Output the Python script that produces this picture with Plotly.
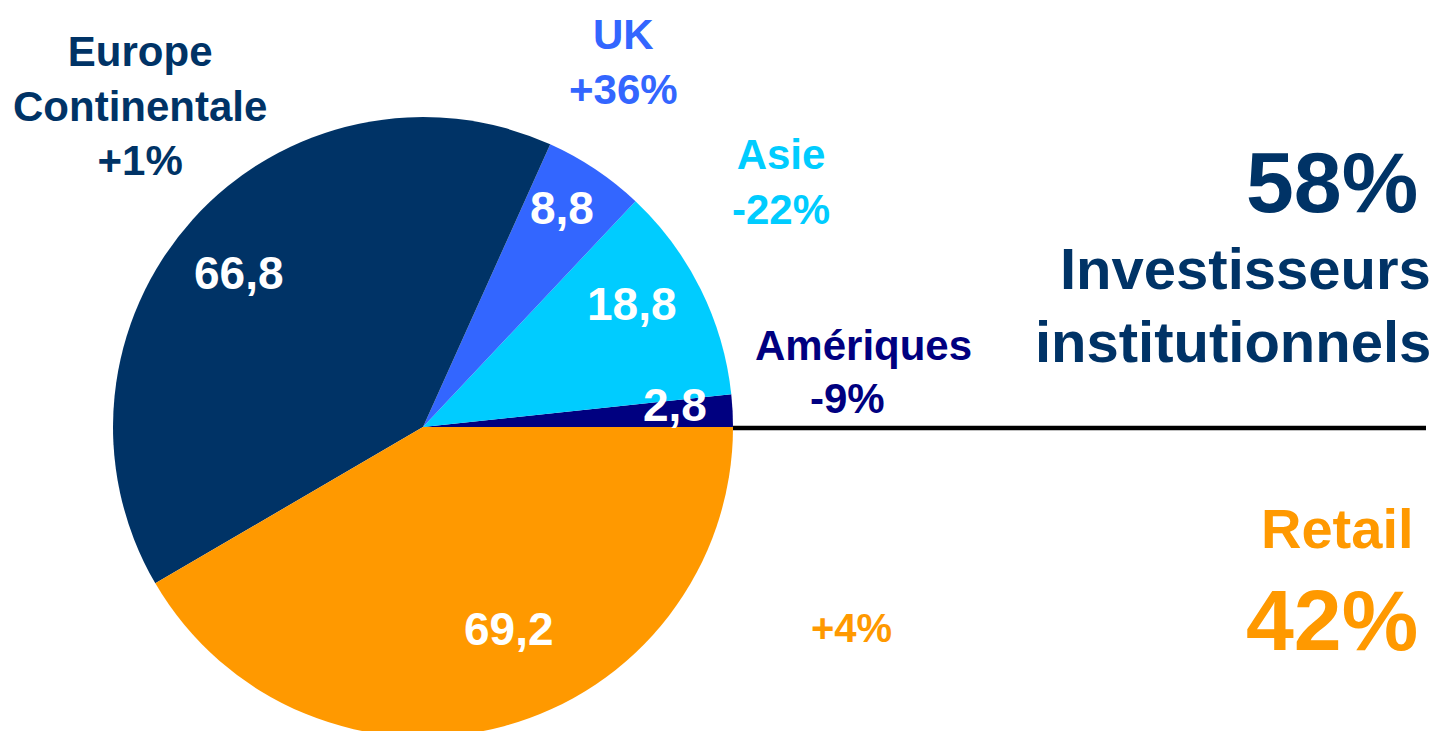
import plotly.graph_objects as go

# ---- data ----
regions = ["Amériques", "Asie", "UK", "Europe Continentale", "Retail"]
values = [2.8, 18.8, 8.8, 66.8, 69.2]
growth = ["-9%", "-22%", "+36%", "+1%", "+4%"]
colors = ["#000080", "#00CCFF", "#3366FF", "#003366", "#FF9900"]
group_labels = ["Investisseurs institutionnels", "Retail"]

W, H = 1436, 741   # slightly taller than the window: the pie bottom is cropped as in the reference
FONT = "Arial, 'Liberation Sans', sans-serif"

def px(x):
    return x / W

def py(y):
    return 1 - y / H

total = sum(values)
inst_share = round(100 * sum(values[:4]) / total)
retail_share = round(100 * values[4] / total)

def fmt(v):
    return f"{v:.1f}".replace(".", ",")

# first slice (Amériques) sits just above 3 o'clock, the rest go counterclockwise
rotation = 90 - 360 * values[0] / total

fig = go.Figure()
fig.add_trace(go.Pie(
    labels=regions,
    values=values,
    marker=dict(colors=colors, line=dict(width=0)),
    sort=False,
    direction="counterclockwise",
    rotation=rotation,
    textinfo="none",
    hoverinfo="label+value",
    showlegend=False,
    domain=dict(x=[px(113), px(733)], y=[py(737), py(117)]),
))

ann = []
# value labels inside the slices
val_pos = [(675, 405), (632, 304), (562, 208), (239, 273), (509, 629)]
for v, (x, y) in zip(values, val_pos):
    ann.append(dict(x=px(x), y=py(y), text=f"<b>{fmt(v)}</b>", showarrow=False,
                    xanchor="center", yanchor="middle",
                    font=dict(family=FONT, size=46, color="white")))

# region labels with growth
ann.append(dict(x=px(140), y=py(106), text="<b>Europe<br>Continentale<br>" + growth[3] + "</b>",
                showarrow=False, xanchor="center", yanchor="middle",
                font=dict(family=FONT, size=42, color=colors[3])))
ann.append(dict(x=px(623), y=py(62), text="<b>" + regions[2] + "<br>" + growth[2] + "</b>",
                showarrow=False, xanchor="center", yanchor="middle",
                font=dict(family=FONT, size=42, color=colors[2])))
ann.append(dict(x=px(781), y=py(182), text="<b>" + regions[1] + "<br>" + growth[1] + "</b>",
                showarrow=False, xanchor="center", yanchor="middle",
                font=dict(family=FONT, size=42, color=colors[1])))
ann.append(dict(x=px(863), y=py(345), text="<b>" + regions[0] + "</b>",
                showarrow=False, xanchor="center", yanchor="middle",
                font=dict(family=FONT, size=42, color=colors[0])))
ann.append(dict(x=px(847), y=py(398), text="<b>" + growth[0] + "</b>",
                showarrow=False, xanchor="center", yanchor="middle",
                font=dict(family=FONT, size=42, color=colors[0])))
ann.append(dict(x=px(851), y=py(628), text="<b>" + growth[4] + "</b>",
                showarrow=False, xanchor="center", yanchor="middle",
                font=dict(family=FONT, size=40, color=colors[4])))

# right side summary
inst_words = group_labels[0].split(" ")
ann.append(dict(x=px(1420), y=py(182), text=f"<b>{inst_share}%</b>",
                showarrow=False, xanchor="right", yanchor="middle",
                font=dict(family=FONT, size=86, color=colors[3])))
ann.append(dict(x=px(1433), y=py(268), text="<b>" + inst_words[0] + "</b>",
                showarrow=False, xanchor="right", yanchor="middle",
                font=dict(family=FONT, size=58, color=colors[3])))
ann.append(dict(x=px(1433), y=py(341), text="<b>" + inst_words[1] + "</b>",
                showarrow=False, xanchor="right", yanchor="middle",
                font=dict(family=FONT, size=58, color=colors[3])))
ann.append(dict(x=px(1416), y=py(528), text="<b>" + group_labels[1] + "</b>",
                showarrow=False, xanchor="right", yanchor="middle",
                font=dict(family=FONT, size=56, color=colors[4])))
ann.append(dict(x=px(1420), y=py(620), text=f"<b>{retail_share}%</b>",
                showarrow=False, xanchor="right", yanchor="middle",
                font=dict(family=FONT, size=86, color=colors[4])))

fig.update_layout(
    width=W, height=H,
    margin=dict(l=0, r=0, t=0, b=0),
    paper_bgcolor="white",
    plot_bgcolor="white",
    annotations=ann,
    shapes=[dict(type="line", xref="paper", yref="paper",
                 x0=px(733), x1=px(1426), y0=py(428), y1=py(428),
                 line=dict(color="black", width=4.5))],
)

fig.write_html(
    "out.html",
    config={"displayModeBar": False},
    post_script="document.body.style.margin='0';document.body.style.overflow='hidden';",
)
